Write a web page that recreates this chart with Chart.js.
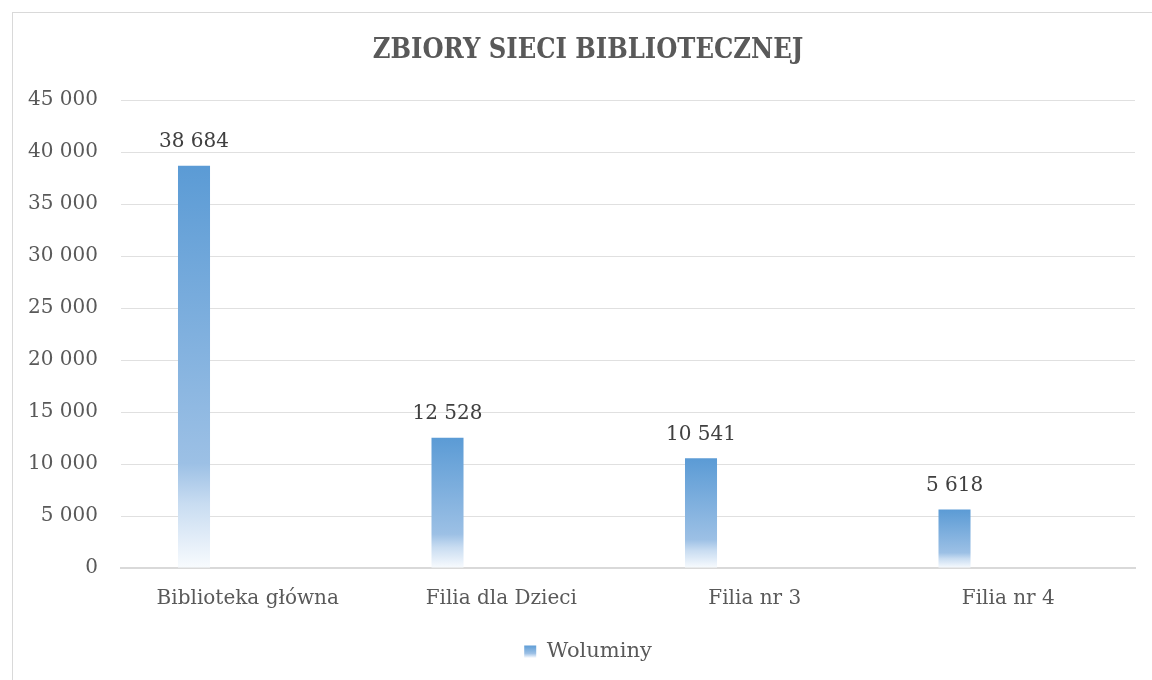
<!DOCTYPE html>
<html>
<head>
<meta charset="utf-8">
<script src="https://cdn.jsdelivr.net/npm/chart.js@4/dist/chart.umd.min.js"></script>
<style>
  html, body { margin: 0; padding: 0; background: #ffffff; }
  #wrap { position: relative; width: 1152px; height: 680px; overflow: hidden; }
  #frame { position: absolute; left: 12px; top: 12px; width: 1200px; height: 700px; border: 1px solid #d9d9d9; pointer-events: none; }
  canvas { position: absolute; left: 0; top: 0; }
</style>
</head>
<body>
<div id="wrap">
  <canvas id="c" width="1176" height="680"></canvas>
  <div id="frame"></div>
</div>
<script>
const chartTitle = 'ZBIORY SIECI BIBLIOTECZNEJ';
const categories = ['Biblioteka główna', 'Filia dla Dzieci', 'Filia nr 3', 'Filia nr 4'];
const seriesName = 'Woluminy';
const woluminy = [38684, 12528, 10541, 5618];
const emptySeries = [null, null, null, null];
const yMin = 0;
const yMax = 45000;
const yStep = 5000;

const FONT = "'DejaVu Serif', 'Liberation Serif', serif";
const TITLE_FONT = "'DejaVu Serif Condensed', 'DejaVu Serif', serif";
const PAD_LEFT = 41;

function fmt(v) {
  return String(v).replace(/\B(?=(\d{3})+(?!\d))/g, ' ');
}

function makeGradient(ctx, top, bottom) {
  const g = ctx.createLinearGradient(0, top, 0, bottom);
  g.addColorStop(0, '#5b9bd5');
  g.addColorStop(0.74, '#9cc0e5');
  g.addColorStop(0.84, '#c8dcf1');
  g.addColorStop(1, '#f8fbfe');
  return g;
}

function barGradient(ctx) {
  const chart = ctx.chart;
  const ys = chart.scales.y;
  if (!ys || ctx.type !== 'data') return '#5b9bd5';
  const top = ys.getPixelForValue(ctx.raw);
  const bottom = ys.getPixelForValue(0);
  if (!isFinite(top) || !isFinite(bottom) || top === bottom) return '#5b9bd5';
  return makeGradient(chart.ctx, top, bottom);
}

const dataLabels = {
  id: 'dataLabels',
  afterDatasetsDraw(chart) {
    const ctx = chart.ctx;
    const meta = chart.getDatasetMeta(0);
    ctx.save();
    ctx.font = '20px ' + FONT;
    ctx.fillStyle = '#404040';
    ctx.textAlign = 'center';
    ctx.textBaseline = 'middle';
    meta.data.forEach((bar, i) => {
      const v = chart.data.datasets[0].data[i];
      ctx.fillText(fmt(v), bar.x, bar.y - 24);
    });
    ctx.restore();
  }
};

const legendGradient = {
  id: 'legendGradient',
  beforeDraw(chart) {
    const lg = chart.legend;
    if (!lg || !lg.legendItems) return;
    const c = (lg.top + lg.bottom) / 2;
    const g = chart.ctx.createLinearGradient(0, c - 6, 0, c + 6);
    g.addColorStop(0, '#5b9bd5');
    g.addColorStop(0.7, '#9cc0e5');
    g.addColorStop(1, '#e8f0fa');
    lg.legendItems.forEach(it => { it.fillStyle = g; });
  }
};

new Chart(document.getElementById('c'), {
  type: 'bar',
  data: {
    labels: categories,
    datasets: [
      {
        label: seriesName,
        data: woluminy,
        backgroundColor: barGradient,
        borderWidth: 0,
        categoryPercentage: 0.848,
        barPercentage: 0.298
      },
      {
        label: '',
        data: emptySeries,
        backgroundColor: 'rgba(0,0,0,0)',
        categoryPercentage: 0.848,
        barPercentage: 0.298
      }
    ]
  },
  options: {
    responsive: false,
    maintainAspectRatio: false,
    devicePixelRatio: 1,
    animation: false,
    layout: { padding: { left: PAD_LEFT, right: 41, top: 0, bottom: 8 } },
    plugins: {
      title: {
        display: true,
        text: chartTitle,
        color: '#595959',
        font: { family: TITLE_FONT, size: 27, weight: 'bold', lineHeight: 1.2 },
        padding: { top: 35, bottom: 32.6 }
      },
      legend: {
        display: true,
        position: 'bottom',
        labels: {
          boxWidth: 12,
          boxHeight: 12,
          color: '#595959',
          font: { family: FONT, size: 21 },
          padding: 11,
          filter: (item) => item.datasetIndex === 0
        }
      },
      tooltip: { enabled: false }
    },
    scales: {
      x: {
        grid: { display: false, drawTicks: false },
        border: { display: true, color: '#d9d9d9', width: 2 },
        ticks: { color: '#595959', font: { family: FONT, size: 20 }, padding: 19, maxRotation: 0 }
      },
      y: {
        min: yMin,
        max: yMax,
        afterFit(scale) {
          scale.width = 121 - PAD_LEFT;
          scale._computeLabelArea = () => undefined;
        },
        grid: { color: '#e0e0e0', lineWidth: 1, drawTicks: false },
        border: { display: false },
        ticks: {
          stepSize: yStep,
          color: '#595959',
          font: { family: FONT, size: 20 },
          padding: 23,
          callback: (v) => fmt(v)
        }
      }
    }
  },
  plugins: [dataLabels, legendGradient]
});
</script>
</body>
</html>
